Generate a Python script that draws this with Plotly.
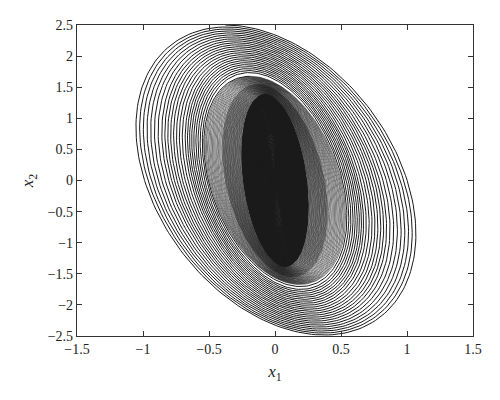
import numpy as np
import plotly.graph_objects as go

# Loop envelope: turn index -> half-width in x1, half-height in x2
turn_keys      = [0,     8,     16,    24,    25,    40,    70,    150,   240,   340]
x1_half_width  = [1.076, 0.852, 0.676, 0.548, 0.537, 0.40,  0.25,  0.19,  0.10,  0.004]
x2_half_height = [2.50,  2.245, 1.99,  1.735, 1.675, 1.55,  1.38,  1.22,  0.75,  0.04]
phase_cos      = [-0.35, -0.35, -0.35, -0.35, -0.35, -0.33, -0.31, -0.30, -0.30, -0.30]
band_turns  = [0, 25, 70, 340]   # outer curves | grey band | black core
band_widths = [1.0, 0.6, 1.0]

x_ticks = [-1.5, -1, -0.5, 0, 0.5, 1, 1.5]
y_ticks = [-2.5, -2, -1.5, -1, -0.5, 0, 0.5, 1, 1.5, 2, 2.5]

pts_per_turn = 200
u = np.linspace(turn_keys[0], turn_keys[-1], (turn_keys[-1] - turn_keys[0]) * pts_per_turn + 1)
X = np.interp(u, turn_keys, x1_half_width)
Y = np.interp(u, turn_keys, x2_half_height)
phi = np.arccos(np.interp(u, turn_keys, phase_cos))
theta = 2 * np.pi * u - phi[0]
x1 = X * np.cos(theta)
x2 = Y * np.cos(theta + phi)

fig = go.Figure()
for k in range(len(band_widths)):
    a = band_turns[k] * pts_per_turn
    b = band_turns[k + 1] * pts_per_turn + 1
    fig.add_trace(go.Scatter(x=x1[a:b], y=x2[a:b], mode="lines",
                             line=dict(color="#1a1a1a", width=band_widths[k]),
                             hoverinfo="skip", showlegend=False))

serif = "Liberation Serif"
axis_common = dict(showgrid=False, zeroline=False, showline=True, linecolor="#333",
                   linewidth=1.3, mirror="ticks", ticks="inside", ticklen=5,
                   tickcolor="#333", tickwidth=1, automargin=False,
                   tickfont=dict(family=serif, size=14, color="#222"))

def fmt(v):
    return f"{v:g}".replace("-", "\u2212")

# the page body adds an 8 px offset, so the figure is 8 px smaller and margins shifted
fig.update_layout(
    width=492, height=392,
    margin=dict(l=69, r=27, t=17, b=64),
    paper_bgcolor="white", plot_bgcolor="white",
    xaxis=dict(range=[-1.5, 1.5], tickvals=x_ticks, ticktext=[fmt(v) for v in x_ticks],
               title=dict(text="<i>x</i><sub>1</sub>", font=dict(family=serif, size=17, color="#222"), standoff=9),
               **axis_common),
    yaxis=dict(range=[-2.5, 2.5], tickvals=y_ticks, ticktext=[fmt(v) for v in y_ticks],
               title=dict(text="<i>x</i><sub>2</sub>", font=dict(family=serif, size=17, color="#222"), standoff=9),
               **axis_common),
)
fig.write_html("out.html")
